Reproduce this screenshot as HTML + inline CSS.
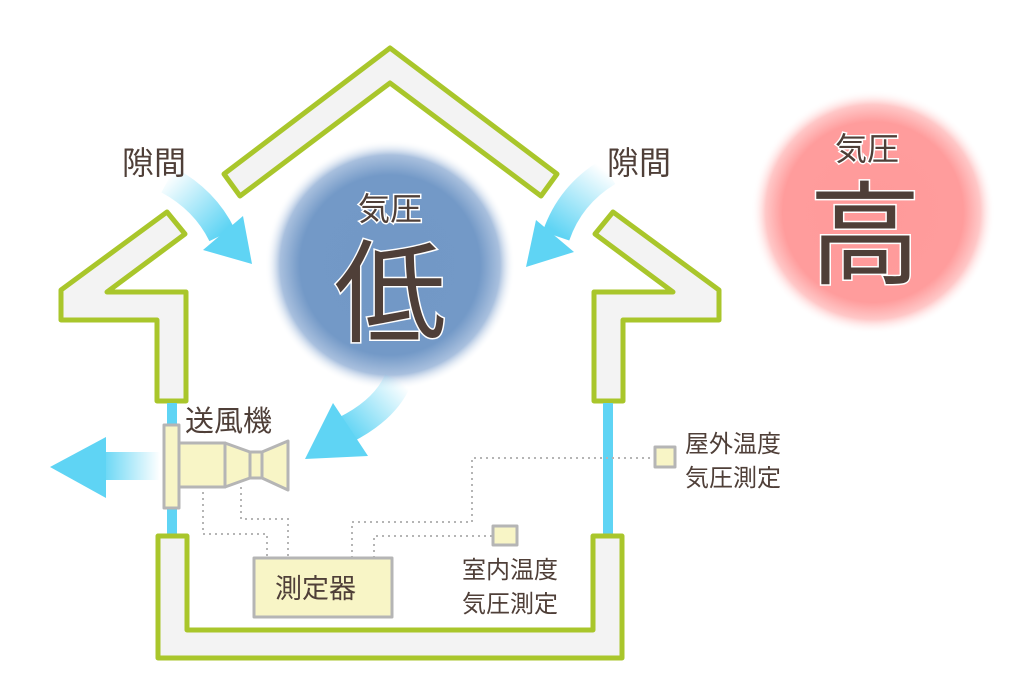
<!DOCTYPE html>
<html><head><meta charset="utf-8"><style>
html,body{margin:0;padding:0;background:#fff;}
svg{display:block;}
text{font-family:"Liberation Sans","Noto Sans CJK JP",sans-serif;fill:#4f3f38;}
</style></head><body>
<svg width="1024" height="699" viewBox="0 0 1024 699" xmlns="http://www.w3.org/2000/svg">
<defs>
<radialGradient id="blue" cx="0.5" cy="0.5" r="0.5">
<stop offset="0" stop-color="#7298c6"/><stop offset="0.72" stop-color="#7399c7"/><stop offset="0.88" stop-color="#a9c0de"/><stop offset="1" stop-color="#ffffff" stop-opacity="0"/>
</radialGradient>
<radialGradient id="pink" cx="0.5" cy="0.5" r="0.5">
<stop offset="0" stop-color="#ff9a9a"/><stop offset="0.74" stop-color="#ff9c9c"/><stop offset="0.88" stop-color="#ffc8c8"/><stop offset="1" stop-color="#ffffff" stop-opacity="0"/>
</radialGradient>
<linearGradient id="ga1" gradientUnits="userSpaceOnUse" x1="170" y1="175" x2="225" y2="230"><stop offset="0" stop-color="#5fd4f4" stop-opacity="0"/><stop offset="1" stop-color="#5fd4f4"/></linearGradient>
<linearGradient id="ga2" gradientUnits="userSpaceOnUse" x1="605" y1="170" x2="560" y2="235"><stop offset="0" stop-color="#5fd4f4" stop-opacity="0"/><stop offset="1" stop-color="#5fd4f4"/></linearGradient>
<linearGradient id="ga3" gradientUnits="userSpaceOnUse" x1="400" y1="380" x2="345" y2="430"><stop offset="0" stop-color="#5fd4f4" stop-opacity="0"/><stop offset="1" stop-color="#5fd4f4"/></linearGradient>
<linearGradient id="ga4" gradientUnits="userSpaceOnUse" x1="160" y1="0" x2="100" y2="0"><stop offset="0" stop-color="#5fd4f4" stop-opacity="0"/><stop offset="1" stop-color="#5fd4f4"/></linearGradient>
</defs>

<circle cx="390" cy="265" r="125" fill="url(#blue)"/>
<circle cx="873" cy="212" r="122" fill="url(#pink)"/>

<!-- roof -->
<polygon points="390,48 557,174 541,196 390,83 240,196 224,174" fill="#f3f3f3" stroke="#a9c62b" stroke-width="5" stroke-linejoin="round"/>
<!-- upper walls -->
<polygon points="167,212 185,234 107,292 186,292 186,401 157,401 157,320 61,320 61,290" fill="#f3f3f3" stroke="#a9c62b" stroke-width="5" stroke-linejoin="round"/>
<polygon points="613,212 595,234 673,292 594,292 594,401 623,401 623,320 719,320 719,290" fill="#f3f3f3" stroke="#a9c62b" stroke-width="5" stroke-linejoin="round"/>
<!-- blue strips -->
<rect x="167" y="403" width="10" height="132" fill="#5fd4f4"/>
<rect x="603" y="403" width="10" height="132" fill="#5fd4f4"/>
<!-- lower wall -->
<polygon points="158,536 187,536 187,630 593,630 593,536 622,536 622,658 158,658" fill="#f3f3f3" stroke="#a9c62b" stroke-width="5" stroke-linejoin="round"/>

<!-- arrows -->
<path d="M168,180 Q205,200 222,235" fill="none" stroke="url(#ga1)" stroke-width="28"/>
<polygon points="252,264 203,250 243,216" fill="#5fd4f4"/>
<path d="M608,172 Q570,195 556,236" fill="none" stroke="url(#ga2)" stroke-width="28"/>
<polygon points="526,267 536,220 574,252" fill="#5fd4f4"/>
<path d="M398,380 Q385,410 345,430" fill="none" stroke="url(#ga3)" stroke-width="28"/>
<polygon points="305,459 333,403 368,456" fill="#5fd4f4"/>
<rect x="100" y="452" width="62" height="28" fill="url(#ga4)"/>
<polygon points="50,467 106,437 106,498" fill="#5fd4f4"/>

<!-- dotted lines -->
<g fill="none" stroke="#b5b5b5" stroke-width="2" stroke-dasharray="2,4">
<polyline points="203,492 203,534 267,534 267,558"/>
<polyline points="241,487 241,519 288,519 288,558"/>
<polyline points="352,558 352,522 472,522 472,458 655,458"/>
<polyline points="374,558 374,536 492,536"/>
</g>

<!-- fan -->
<g fill="#f8f5c6" stroke="#b5b5b5" stroke-width="3" stroke-linejoin="round">
<rect x="179" y="443" width="46" height="44"/>
<polygon points="225,443 250,452 250,478 225,487"/>
<rect x="250" y="452" width="12" height="26"/>
<polygon points="262,452 288,441 288,490 262,478"/>
<rect x="164" y="425" width="15" height="83"/>
<rect x="254" y="558" width="138" height="59"/>
<rect x="493" y="526" width="24" height="19"/>
<rect x="655" y="447" width="20" height="20"/>
</g>

<!-- text -->
<text x="122" y="174" font-size="32">隙間</text>
<text x="607" y="174" font-size="32">隙間</text>
<text x="185" y="431" font-size="29">送風機</text>
<text x="275" y="598" font-size="27">測定器</text>
<text x="462" y="578" font-size="24">室内温度</text>
<text x="462" y="612" font-size="24">気圧測定</text>
<text x="685" y="452" font-size="24">屋外温度</text>
<text x="685" y="486" font-size="24">気圧測定</text>
<g stroke="#fff" stroke-width="3" paint-order="stroke">
<text x="390" y="220" font-size="32" text-anchor="middle">気圧</text>
<text x="390" y="333" font-size="112" text-anchor="middle">低</text>
<text x="867" y="160" font-size="32" text-anchor="middle">気圧</text>
<text x="865" y="275" font-size="112" text-anchor="middle">高</text>
</g>
</svg>
</body></html>
